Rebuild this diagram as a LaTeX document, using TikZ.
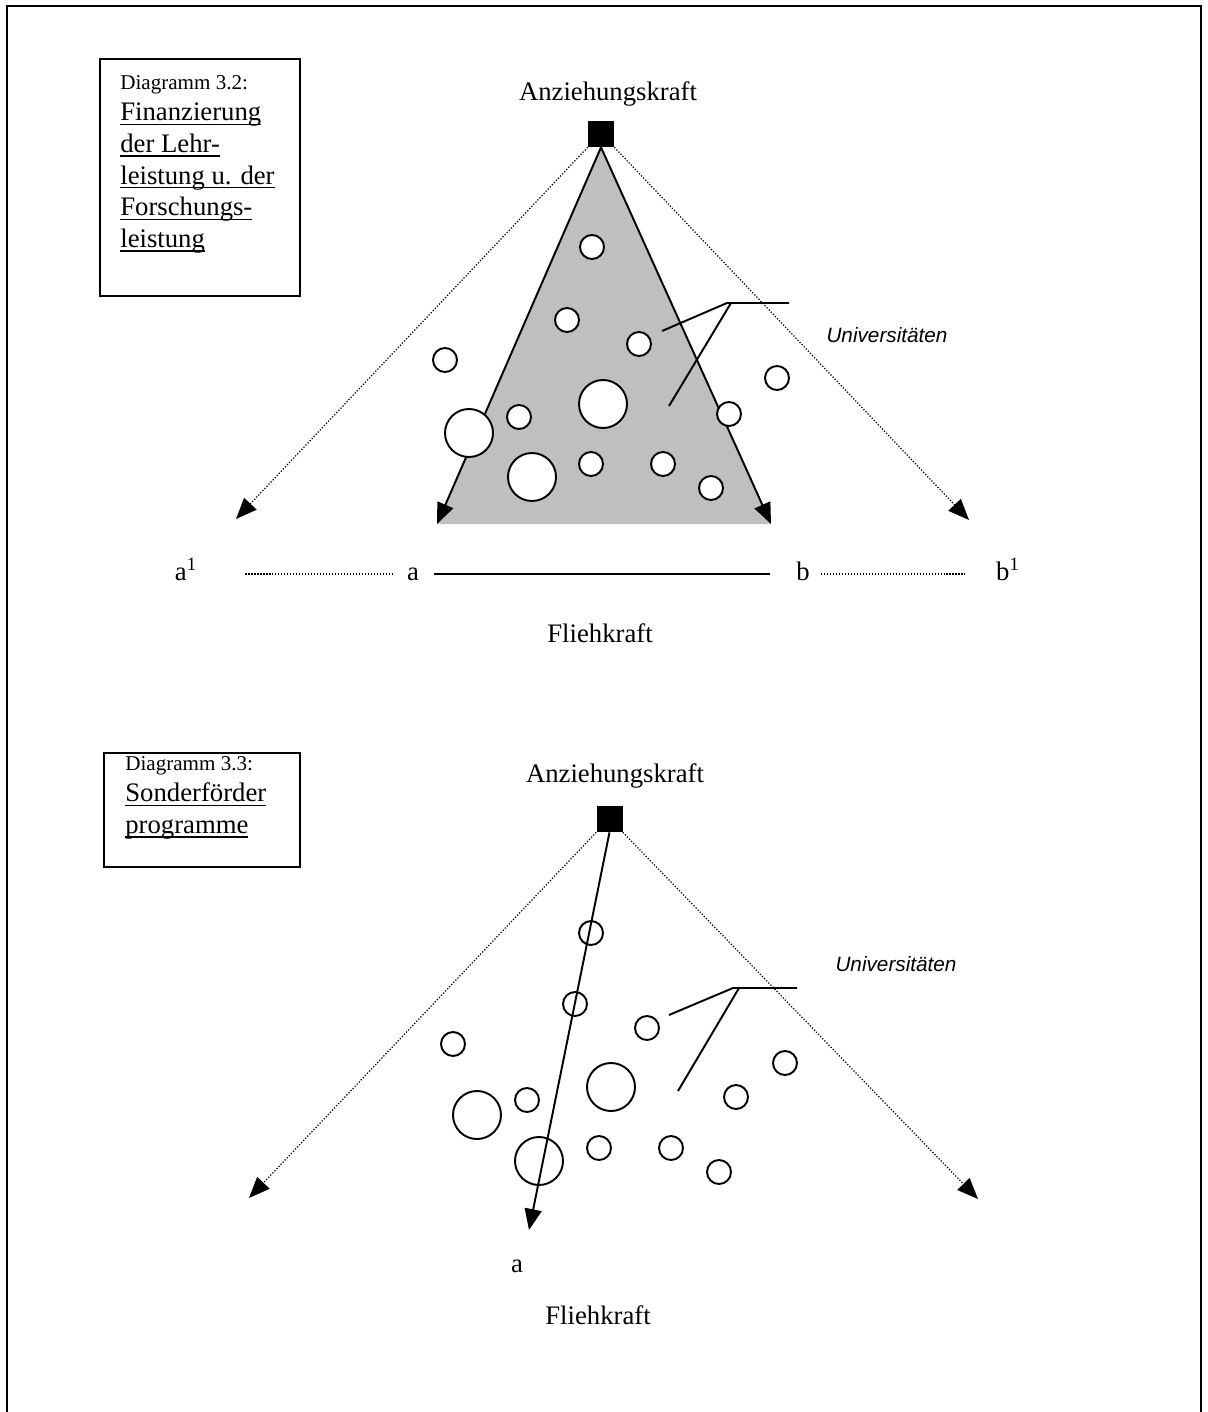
\documentclass[tikz,border=0pt]{standalone}
\usepackage{fontspec}
\setmainfont{Liberation Serif}
\setsansfont{Liberation Sans}
\newcommand\ulword[1]{\setbox0\hbox{#1}\rlap{\rule[-2.4pt]{\wd0}{0.8pt}}\box0}
\usetikzlibrary{arrows.meta}
\begin{document}
\begin{tikzpicture}[x=0.02cm,y=-0.02cm,
    big/.style={font=\fontsize{15.2}{18}\selectfont},
    lbl/.style={big, inner sep=0pt, text height=7pt, text depth=0pt},
    univ/.style={draw, line width=1.1pt, fill=white, circle, inner sep=0pt, minimum size=#1},
    univ/.default=0.48cm,
    pol/.style={fill=black, inner sep=0pt, minimum size=0.52cm},
    arr/.style={line width=1.1pt, -{Triangle[length=0.42cm,width=0.34cm]}},
    dots/.style={line width=0.7pt, dash pattern=on 0.7pt off 1pt},
    darr/.style={dots, -{Triangle[length=0.42cm,width=0.34cm]}},
    hint/.style={font=\fontsize{11.8}{14}\sffamily\itshape}]
\useasboundingbox (0,0) rectangle (1207,1412);
% page frame
\draw[line width=1.3pt] (7,1412) -- (7,6) -- (1201,6) -- (1201,1412);

% ---- Diagramm 3.2
\draw[line width=1pt] (100,59) rectangle (300,296);
\node[big, anchor=north west, align=left, inner sep=0pt] (cap1) at (120,75)
  {{\fontsize{12}{14}\selectfont Diagramm 3.2:}\\ \ulword{Finanzierung}\\ \ulword{der Lehr-}\\
   \ulword{leistung u. der}\\ \ulword{Forschungs-}\\ \ulword{leistung}};
\node[big] (anz1) at (608,94) {Anziehungskraft};
\node[pol] (sq1) at (601,134) {};
\coordinate (l1) at (437,524);
\coordinate (r1) at (771,524);
\coordinate (ll1) at (236,519);
\coordinate (rr1) at (969,520);
\fill[black!25] (sq1.south) -- (l1) -- (r1) -- cycle;
\draw[arr] (sq1.south) -- (l1);
\draw[arr] (sq1.south) -- (r1);
\draw[darr] (sq1.south west) -- (ll1);
\draw[darr] (sq1.south east) -- (rr1);
\foreach \x/\y/\r [count=\i] in {592/247/0.48cm, 567/320/0.48cm, 639/344/0.48cm, 445/360/0.48cm,
    777/378/0.48cm, 603/404/0.96cm, 519/417/0.48cm, 729/414/0.48cm, 469/433/0.96cm,
    532/477/0.96cm, 591/464/0.48cm, 663/464/0.48cm, 711/488/0.48cm}
  \node[univ=\r] (u\i) at (\x,\y) {};
\coordinate (k1) at (727,303);
\coordinate (k1e) at (789,303);
\coordinate (k1a) at (662,331);
\coordinate (k1b) at (731,303);
\coordinate (k1c) at (669,406);
\draw[line width=1.1pt] (k1e) -- (k1) -- (k1a) (k1b) -- (k1c);
\node[hint] (uni1) at (887,335) {Universitäten};
\node[lbl] (a1) at (186,574) {a\textsuperscript{1}};
\node[lbl] (a) at (413,574) {a};
\node[lbl] (b) at (803,574) {b};
\node[lbl] (b1) at (1008,574) {b\textsuperscript{1}};
\draw[dots, shorten <=0.96cm, shorten >=0.26cm] (a1) -- (a);
\draw[line width=1.1pt, shorten <=0.3cm, shorten >=0.52cm] (a) -- (b);
\draw[dots, shorten <=0.22cm, shorten >=0.62cm] (b) -- (b1);
\node[big] (flieh1) at (600,633) {Fliehkraft};

% ---- Diagramm 3.3
\draw[line width=1pt] (104,753) rectangle (300,867);
\node[big, anchor=north west, align=left, inner sep=0pt] (cap2) at (125,756)
  {{\fontsize{12}{14}\selectfont Diagramm 3.3:}\\ \ulword{Sonderförder}\\ \ulword{programme}};
\node[big] (anz2) at (615,776) {Anziehungskraft};
\node[pol] (sq2) at (609.5,819) {};
\coordinate (l2) at (529,1230);
\coordinate (ll2) at (249,1198);
\coordinate (rr2) at (978,1199);
\foreach \x/\y/\r [count=\i] in {591/933/0.48cm, 575/1004/0.48cm, 647/1028/0.48cm, 453/1044/0.48cm,
    785/1063/0.48cm, 611/1087/0.96cm, 527/1100/0.48cm, 736/1097/0.48cm, 477/1115/0.96cm,
    539/1161/0.96cm, 599/1148/0.48cm, 671/1148/0.48cm, 719/1172/0.48cm}
  \node[univ=\r] (v\i) at (\x,\y) {};
\draw[arr] (sq2.south) -- (l2);
\draw[darr] (sq2.south west) -- (ll2);
\draw[darr] (sq2.south east) -- (rr2);
\coordinate (k2) at (733,988);
\coordinate (k2e) at (797,988);
\coordinate (k2a) at (669,1015);
\coordinate (k2b) at (739,988);
\coordinate (k2c) at (678,1091);
\draw[line width=1.1pt] (k2e) -- (k2) -- (k2a) (k2b) -- (k2c);
\node[hint] (uni2) at (896,964) {Universitäten};
\node[lbl] (a2) at (517,1266) {a};
\node[big] (flieh2) at (598,1315) {Fliehkraft};
\end{tikzpicture}
\end{document}
